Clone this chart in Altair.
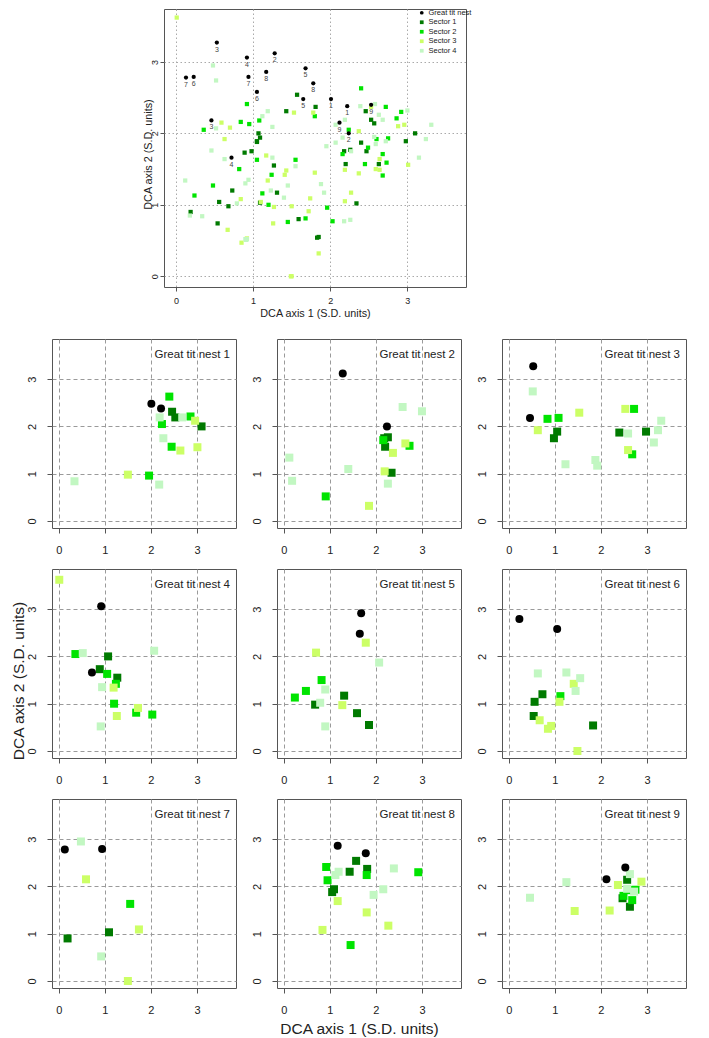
import altair as alt
import pandas as pd

FONT = "Liberation Sans"
GROUPS = ["Great tit nest", "Sector 1", "Sector 2", "Sector 3", "Sector 4"]
COLORS = ["#000000", "#007A00", "#00E400", "#CCFF66", "#C2F7C2"]
SHAPES = ["circle", "square", "square", "square", "square"]

# Nest (great tit) positions, one list per nest 1..9
NEST_X = [[2.01, 2.22], [1.28, 2.24], [0.53, 0.46], [0.92, 0.72], [1.68, 1.65], [0.23, 1.05], [0.13, 0.94], [1.17, 1.78], [2.12, 2.53]]
NEST_Y = [[2.48, 2.38], [3.12, 2.00], [3.27, 2.18], [3.06, 1.66], [2.91, 2.48], [2.79, 2.58], [2.78, 2.79], [2.86, 2.70], [2.15, 2.40]]

# Sector samples around each nest (nests 1..9)
S1_X = [[2.46, 2.53, 3.10], [2.18, 2.26, 2.20, 2.34], [1.05, 0.98, 2.40, 2.98], [0.89, 1.07, 1.27], [0.68, 1.31, 1.59, 1.85], [0.56, 0.73, 0.54, 1.83], [0.19, 1.09], [1.57, 1.43, 1.81, 1.09, 1.05], [2.57, 2.63, 2.47]]
S1_Y = [[2.31, 2.19, 2.00], [1.75, 1.77, 1.57, 1.02], [1.89, 1.75, 1.87, 1.89], [1.73, 2.00, 1.55], [0.98, 1.17, 0.80, 0.55], [1.04, 1.20, 0.74, 0.54], [0.90, 1.03], [2.54, 2.31, 2.37, 1.94, 1.88], [2.14, 1.57, 1.75]]
S2_X = [[2.40, 2.24, 2.45, 2.86, 1.96], [0.91, 2.73, 2.16], [0.84, 1.08, 2.72, 2.68], [0.36, 1.05, 1.20, 1.68, 2.03, 1.24], [0.24, 0.48, 0.82], [1.12], [1.55], [0.92, 0.95, 1.80, 1.45, 2.92], [2.49, 2.68, 2.75, 2.60]]
S2_Y = [[2.63, 2.05, 1.57, 2.21, 0.96], [0.52, 1.59, 1.71], [2.16, 2.18, 2.37, 1.41], [2.05, 1.63, 1.00, 0.81, 0.77, 1.42], [1.13, 1.27, 1.50], [1.16], [1.63], [2.41, 2.13, 2.24, 0.76, 2.30], [1.80, 1.71, 1.93, 1.92]]
S3_X = [[2.96, 2.64, 3.01, 1.50], [2.64, 2.37, 2.19, 1.85], [0.63, 1.53, 2.53, 2.59], [0.01, 1.19, 1.26, 1.72], [1.78, 0.70, 1.27], [1.41, 1.10, 0.67, 0.85, 0.92, 1.49], [0.59, 1.74, 1.50], [1.17, 1.80, 2.27, 0.84], [1.43, 2.19, 2.37, 2.88]]
S3_Y = [[2.12, 1.49, 1.56, 0.98], [1.64, 1.44, 1.05, 0.32], [1.92, 2.29, 2.37, 1.50], [3.62, 1.34, 0.74, 0.91], [2.29, 2.08, 0.97], [1.42, 1.04, 0.65, 0.47, 0.53, 0.00], [2.15, 1.09, 0.00], [1.69, 1.45, 1.17, 1.08], [1.48, 1.49, 2.03, 2.10]]
S4_X = [[2.19, 2.68, 2.27, 2.18, 0.34], [2.58, 3.00, 0.12, 0.18, 1.40, 2.26], [0.52, 1.23, 1.88, 1.92, 2.59, 3.15, 3.24, 3.31], [0.52, 0.94, 0.91, 2.07], [2.07, 0.90, 0.79, 0.90], [0.63, 1.25, 1.55, 1.45], [0.48, 0.92], [1.19, 1.12, 2.39, 2.16, 1.95], [0.46, 1.25, 2.63, 2.57, 2.72]]
S4_Y = [[2.19, 2.19, 1.75, 0.77, 0.84], [2.41, 2.32, 1.34, 0.85, 1.10, 0.79], [2.74, 1.20, 1.29, 1.17, 1.85, 1.66, 1.92, 2.12], [2.07, 1.35, 0.52, 2.12], [1.87, 1.30, 1.02, 0.52], [1.64, 1.66, 1.54, 1.27], [2.95, 0.52], [2.31, 2.24, 2.38, 1.94, 1.82], [1.76, 2.09, 2.26, 1.95, 1.89]]

TICKS = [0, 1, 2, 3]
AXIS_X_TITLE = "DCA axis 1 (S.D. units)"
AXIS_Y_TITLE = "DCA axis 2 (S.D. units)"

rows = []
for gi, (gx, gy) in enumerate([(S1_X, S1_Y), (S2_X, S2_Y), (S3_X, S3_Y), (S4_X, S4_Y)]):
    for n in range(9):
        for x, y in zip(gx[n], gy[n]):
            rows.append(dict(nest=n + 1, group=GROUPS[gi + 1], x=x, y=y, label=""))
for n in range(9):
    for x, y in zip(NEST_X[n], NEST_Y[n]):
        rows.append(dict(nest=n + 1, group=GROUPS[0], x=x, y=y, label=str(n + 1)))
df = pd.DataFrame(rows)

color_scale = alt.Scale(domain=GROUPS, range=COLORS)
shape_scale = alt.Scale(domain=GROUPS, range=SHAPES)

# ---------------- top overview panel ----------------
top_legend = alt.Legend(title=None, orient="none", legendX=254, legendY=0,
                        labelFontSize=7.5, labelFont=FONT, labelColor="#222",
                        symbolSize=14, rowPadding=0.5, labelOffset=3, padding=0,
                        symbolStrokeWidth=0)

def top_axis(title, is_y):
    kw = dict(values=TICKS, title=title, titleFontSize=10.8, titleFontWeight="normal",
              titleFont=FONT, titleColor="#222", labelFontSize=9, labelFont=FONT,
              labelColor="#222", tickSize=4, tickColor="#555", domain=False,
              grid=True, gridColor="#aaaaaa", gridDash=[1.5, 2.5], format="d",
              titleBaseline="middle", titleAlign="center")
    if is_y:
        kw.update(labelAngle=270, labelAlign="center", labelBaseline="bottom",
                  labelPadding=1, titleX=-16, titleY=145)
    else:
        kw.update(labelPadding=5, titleX=151, titleY=26)
    return alt.Axis(**kw)

xs_top = alt.Scale(domain=[-0.155, 3.76], nice=False, zero=False)
ys_top = alt.Scale(domain=[-0.15, 3.74], nice=False, zero=False)

top_pts = alt.Chart(df).mark_point(filled=True, opacity=1, size=18).encode(
    x=alt.X("x:Q", scale=xs_top, axis=top_axis(AXIS_X_TITLE, False)),
    y=alt.Y("y:Q", scale=ys_top, axis=top_axis(AXIS_Y_TITLE, True)),
    color=alt.Color("group:N", scale=color_scale, legend=top_legend),
    shape=alt.Shape("group:N", scale=shape_scale, legend=top_legend),
)
top_lab = alt.Chart(df).transform_filter(alt.datum.group == GROUPS[0]).mark_text(
    dy=7, fontSize=7, color="#444", font=FONT).encode(
    x=alt.X("x:Q", scale=xs_top), y=alt.Y("y:Q", scale=ys_top), text="label:N")
top = alt.layer(top_pts, top_lab).properties(width=302, height=278)

spacer = alt.Chart(pd.DataFrame({"a": [0]})).mark_point(opacity=0, size=1).encode(
    x=alt.value(10), y=alt.value(5)).properties(
    width=89, height=10, view=alt.ViewBackground(strokeOpacity=0))

top_row = alt.hconcat(spacer, top, spacing=0).resolve_scale(color="independent", shape="independent")

# ---------------- nine small panels ----------------
dom = [-0.148, 3.848]

def small_axis(is_y, title=None, tx=None, ty=None):
    kw = dict(values=TICKS, labelFontSize=11, labelFont=FONT, labelColor="#222",
              tickSize=5, tickColor="#555", domain=False, grid=True,
              gridColor="#9a9a9a", gridDash=[4, 3], format="d")
    if is_y:
        kw.update(labelAngle=270, labelAlign="center", labelBaseline="bottom", labelPadding=10)
    else:
        kw.update(labelPadding=11)
    if title is not None:
        kw.update(title=title, titleFontSize=15.5, titleFontWeight="normal", titleFont=FONT,
                  titleColor="#222", titleX=tx, titleY=ty, titleBaseline="middle",
                  titleAlign="center")
    else:
        kw.update(title=None)
    return alt.Axis(**kw)

panels = []
for i in range(1, 10):
    d = df[df.nest == i]
    xa = small_axis(False, AXIS_X_TITLE, 82, 40) if i == 8 else small_axis(False)
    ya = small_axis(True, AXIS_Y_TITLE, -34, 111.5) if i == 4 else small_axis(True)
    pts = alt.Chart(d).mark_point(filled=True, opacity=1, size=64).encode(
        x=alt.X("x:Q", scale=alt.Scale(domain=dom, nice=False, zero=False), axis=xa),
        y=alt.Y("y:Q", scale=alt.Scale(domain=dom, nice=False, zero=False), axis=ya),
        color=alt.Color("group:N", scale=color_scale, legend=None),
        shape=alt.Shape("group:N", scale=shape_scale, legend=None),
    )
    lab = alt.Chart(pd.DataFrame({"t": [f"Great tit nest {i}"]})).mark_text(
        align="right", baseline="alphabetic", fontSize=11.5, font=FONT, color="#222").encode(
        text="t:N", x=alt.value(178), y=alt.value(19))
    panels.append(alt.layer(pts, lab).properties(width=184, height=189))

grid = alt.concat(*panels, columns=3, spacing=41, bounds="flush")

chart = alt.vconcat(top_row, grid, spacing=19).resolve_scale(
    color="independent", shape="independent").properties(
    padding={"left": 2, "top": 0, "right": 5, "bottom": 0}).configure(
    font=FONT).configure_view(stroke="#555", strokeWidth=1)

chart.save("out.html", embed_options={"renderer": "svg", "actions": False})
